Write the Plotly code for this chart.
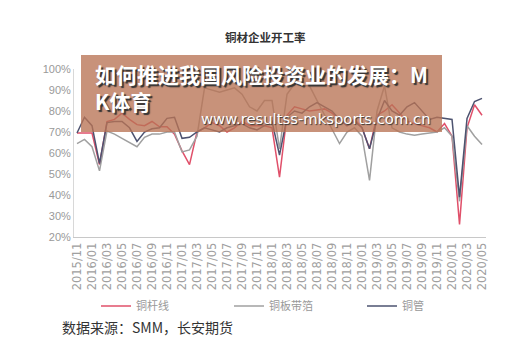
import plotly.graph_objects as go

# ---- data ----
months = []
y, m = 2015, 11
for _ in range(55):
    months.append(f"{y}/{m:02d}")
    m += 1
    if m > 12:
        m = 1
        y += 1

tick_labels = months[::2]

rod_wire = [69.5, 69.5, 69.5, 54.5, 75, 76, 79, 76, 73.5, 73, 75, 72.5, 72.5, 69, 61, 54.5,
            70, 72, 74.5, 73, 70, 72, 75, 73, 73, 73, 72, 48.5, 78, 82, 81, 80, 80.5, 81, 79,
            76, 73, 76, 72, 62, 78, 80, 83, 79, 75, 74, 73, 72, 70, 74, 68, 26, 72, 83, 78]
plate_strip = [64.5, 66.5, 63, 51.5, 70.5, 69, 67, 65, 63, 67.5, 69, 69, 70, 70, 60.5, 61.5,
               68, 91, 90, 89, 90, 91, 88, 82, 80, 85, 85, 62, 88, 93, 92, 92, 85, 78, 71,
               64.5, 70, 72, 68, 47, 80, 92, 72, 70, 69, 68.5, 69, 69.5, 70, 72, 68, 37, 73, 68, 64]
tube = [69.5, 77, 73, 55, 74.5, 75, 75, 72, 65.5, 70, 71.5, 72, 76.5, 77, 67, 67.5,
        70, 72, 71, 70, 72, 73, 74, 72, 71, 73, 75, 59, 77, 80, 79, 82, 84, 82, 80,
        76, 73, 75, 72, 62, 76, 85, 80, 78, 82, 84, 80, 76, 77, 76.5, 76, 39, 76.5, 84.5, 86]

series_names = ["铜杆线", "铜板带箔", "铜管"]
series_colors = ["#e0506a", "#a0a0a0", "#4d5370"]

fig = go.Figure()
for name, vals, col in zip(series_names, [rod_wire, plate_strip, tube], series_colors):
    fig.add_trace(go.Scatter(x=months, y=vals, mode="lines", name=name,
                             line=dict(color=col, width=1.5)))

W, H = 522, 349
L, R, T, B = 74, 36, 69, 112
pw, ph = W - L - R, H - T - B

def px(x):
    return (x - L) / pw

def py(y):
    return (H - B - y) / ph

fig.update_layout(
    width=W, height=H,
    margin=dict(l=L, r=R, t=T, b=B),
    paper_bgcolor="white", plot_bgcolor="white",
    font=dict(family="Noto Sans CJK SC", color="#888"),
    showlegend=True,
    legend=dict(orientation="h", x=px(96), xanchor="left", y=py(306), yanchor="middle",
                font=dict(size=11, color="#999"), entrywidth=88, entrywidthmode="pixels",
                bgcolor="rgba(0,0,0,0)"),
    xaxis=dict(type="category", range=[-0.4, 54.53], tickmode="array",
               tickvals=tick_labels, ticktext=tick_labels, tickangle=-90,
               tickfont=dict(size=11.5, color="#a0a0a0", family="DejaVu Sans"),
               showgrid=False, showline=True, linecolor="#c8c8c8", linewidth=1,
               ticks="", zeroline=False),
    yaxis=dict(range=[20, 100], tickmode="linear", dtick=10, ticksuffix="%",
               tickfont=dict(size=11, color="#999", family="Liberation Sans"),
               showgrid=False, showline=True, linecolor="#d8d8d8", linewidth=1,
               ticks="", zeroline=False),
)

# title
fig.add_annotation(text="<b>铜材企业开工率</b>", xref="paper", yref="paper",
                   x=px(265), y=py(27), showarrow=False,
                   font=dict(size=11.5, color="#333", family="Noto Sans CJK SC"))

# banner overlay
fig.add_shape(type="rect", xref="paper", yref="paper", layer="above",
              x0=px(81), x1=px(442), y0=py(55), y1=py(132),
              fillcolor="rgba(185,115,85,0.78)", line=dict(width=0))
fig.add_annotation(text="<b>如何推进我国风险投资业的发展：M<br>K体育</b>", xref="paper", yref="paper",
                   x=px(93), y=py(87), xanchor="left", yanchor="middle", align="left",
                   showarrow=False,
                   font=dict(size=21, color="white", family="Noto Sans CJK SC",
                             shadow="2px 2px 1px #333"))
fig.add_annotation(text="www.resultss-mksports.com.cn", xref="paper", yref="paper",
                   x=px(199), y=py(118), xanchor="left", yanchor="middle",
                   showarrow=False,
                   font=dict(size=14.8, color="white", family="DejaVu Sans",
                             shadow="1px 1px 1px #333"))

# source
fig.add_annotation(text="数据来源：SMM，长安期货", xref="paper", yref="paper",
                   x=px(60), y=py(327), xanchor="left", yanchor="middle",
                   showarrow=False,
                   font=dict(size=14, color="#333", family="Noto Sans CJK SC"))

fig.write_html("out.html")
